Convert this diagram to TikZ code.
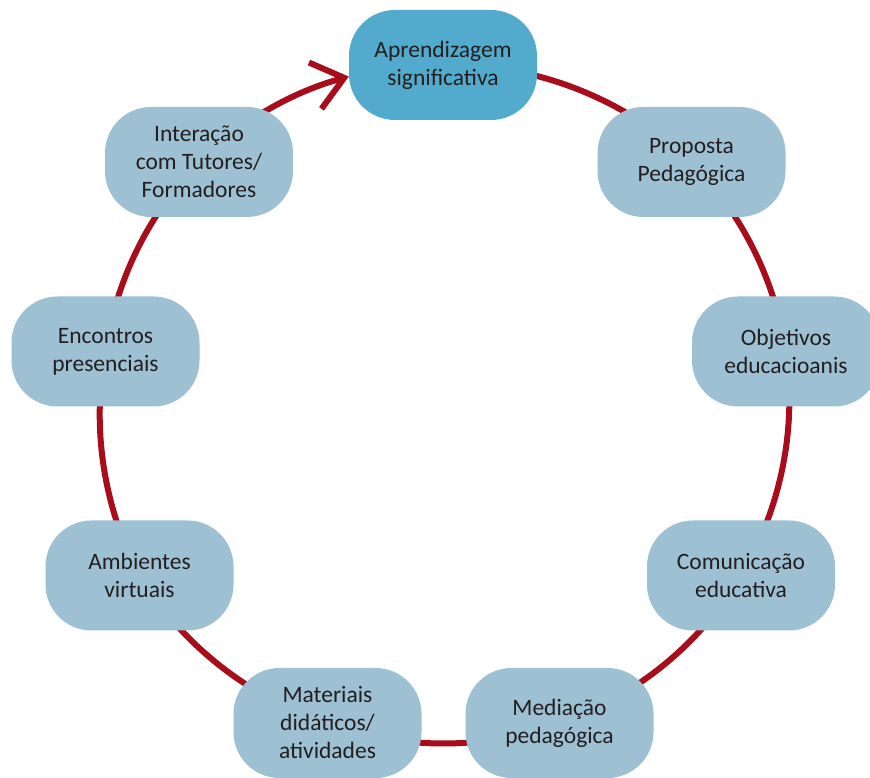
\documentclass[tikz,border=0pt]{standalone}
\usepackage{fontspec}
\setmainfont{Carlito}
\usetikzlibrary{arrows.meta,backgrounds}
\definecolor{ringred}{RGB}{168,13,27}
\definecolor{boxblue}{RGB}{157,192,210}
\definecolor{topblue}{RGB}{82,171,205}
\definecolor{txt}{RGB}{35,31,32}
\begin{document}
\begin{tikzpicture}[x=1pt,y=1pt,
  stage/.style={draw=none, fill=boxblue, rounded corners=46pt, minimum width=188pt,
    minimum height=110pt, align=center, text=txt, inner sep=0pt,
    font=\fontsize{23.5}{28}\selectfont},
  topstage/.style={stage, fill=topblue},
  ring/.style={draw=ringred, line width=6pt, looseness=0.875}]
\useasboundingbox (0,0) rectangle (870,778);
\node[topstage] (A)  at (443,713)   {Aprendizagem\\significativa};
\node[stage]    (P)  at (691.5,616) {Proposta\\Pedagógica};
\node[stage]    (O)  at (786,426.5) {Objetivos\\educacioanis};
\node[stage]    (C)  at (741,202.5) {Comunicação\\educativa};
\node[stage]    (M)  at (559.5,55)  {Mediação\\pedagógica};
\node[stage]    (Mt) at (327.5,55)  {Materiais\\didáticos/\\atividades};
\node[stage]    (Am) at (139.5,202.5) {Ambientes\\virtuais};
\node[stage]    (E)  at (105.5,426.5) {Encontros\\presenciais};
\node[stage]    (I)  at (199,616)   {Interação\\com Tutores/\\Formadores};
\begin{scope}[on background layer]
\fill[white] (0,0) rectangle (870,778);
\draw[ring] (A.center)  to[bend left=22.7] (P.center);
\draw[ring] (P.center)  to[bend left=17.7] (O.center);
\draw[ring] (O.center)  to[bend left=19.4] (C.center);
\draw[ring] (C.center)  to[bend left=20.2] (M.center);
\draw[ring] (M.center)  to[bend left=20.2] (Mt.center);
\draw[ring] (Mt.center) to[bend left=20.4] (Am.center);
\draw[ring] (Am.center) to[bend left=19.2] (E.center);
\draw[ring] (E.center)  to[bend left=17.9] (I.center);
\draw[ring, -{Straight Barb[length=30pt,width=48pt]}] (I.center) to[bend left=14.5] (A.187);
\end{scope}
\end{tikzpicture}
\end{document}
